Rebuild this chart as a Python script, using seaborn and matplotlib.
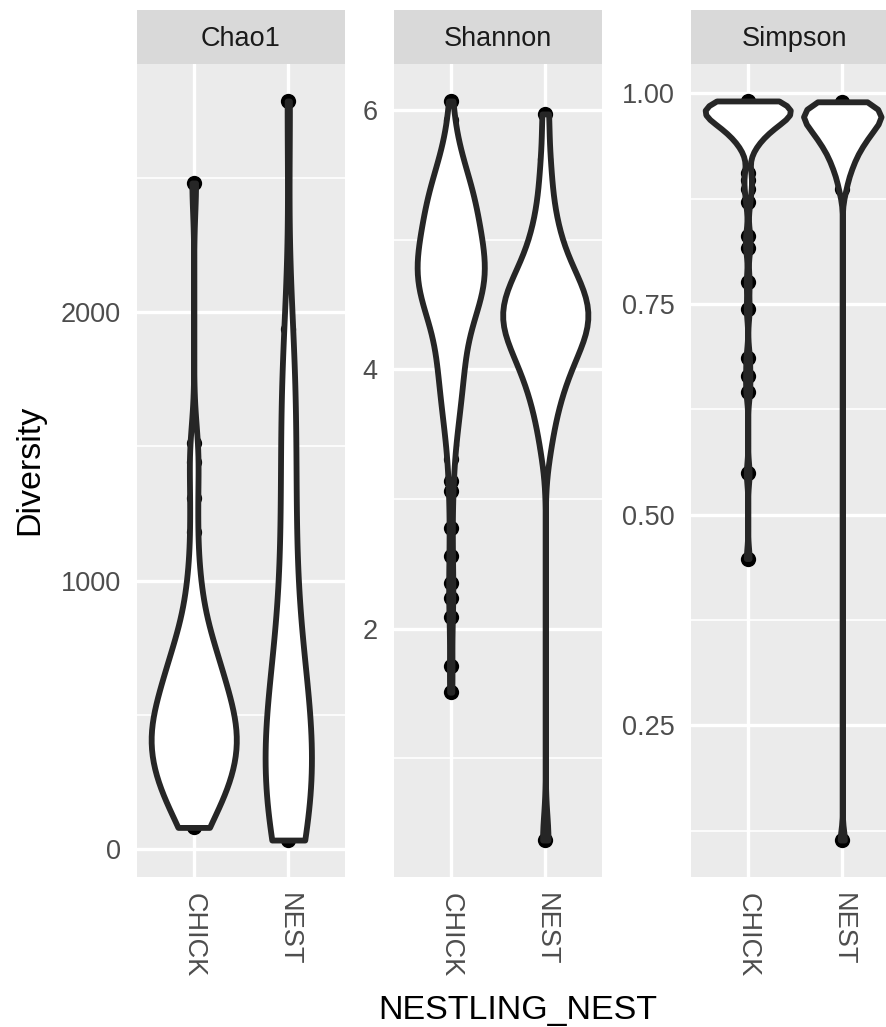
import numpy as np
import pandas as pd
import matplotlib
matplotlib.use("Agg")
import matplotlib.pyplot as plt
import seaborn as sns

# ---------------- data ----------------
groups = ["CHICK", "NEST"]
metrics = ["Chao1", "Shannon", "Simpson"]

chao1_chick = [82, 98, 120, 141,
               162, 178, 195, 210, 226,
               240, 255, 268, 281, 294,
               305, 316, 328, 339, 350, 361, 372, 383, 394, 404,
               414, 425, 436, 447, 458, 470, 481, 493, 505, 517, 529, 541, 552,
               566, 581, 597, 613, 629, 646, 663, 680, 698,
               718, 738, 760, 784,
               820, 862, 905,
               975, 1048,
               1180,
               1307, 1441, 1512, 2480]
chao1_nest = [35, 42, 55, 72, 95, 120, 145,
              170, 198, 226, 252, 278, 302,
              328, 356, 385, 414, 444, 474, 505, 536, 560,
              590, 612, 660, 720,
              790, 870,
              960, 1060, 1160, 1250,
              1350, 1450,
              1560, 1650, 1739,
              1810, 1937,
              2785]

shannon_chick = [6.07, 5.92, 5.82, 5.74,
                 5.70, 5.67, 5.64, 5.61, 5.58, 5.55, 5.53, 5.50, 5.48,
                 5.46, 5.44, 5.43, 5.41, 5.40, 5.38, 5.37, 5.36, 5.34, 5.33,
                 5.31, 5.30, 5.29, 5.27, 5.26, 5.25, 5.23, 5.22, 5.21, 5.20,
                 5.19, 5.18, 5.16, 5.15, 5.13, 5.12, 5.11, 5.09, 5.08, 5.07,
                 5.06, 5.04, 5.03, 5.02, 5.01, 4.99, 4.98, 4.97, 4.96, 4.95,
                 4.94, 4.93, 4.92, 4.91, 4.90, 4.89, 4.88, 4.87, 4.86, 4.85,
                 4.84, 4.83, 4.83, 4.82,
                 4.81, 4.80, 4.79, 4.78, 4.77, 4.76, 4.75, 4.74, 4.73, 4.72,
                 4.71, 4.70, 4.69, 4.68, 4.67, 4.66, 4.65, 4.64, 4.63, 4.62,
                 4.61, 4.60, 4.59, 4.58, 4.57, 4.57, 4.56, 4.55,
                 4.54, 4.52, 4.51, 4.50, 4.49, 4.47, 4.46, 4.45, 4.43, 4.42,
                 4.41, 4.40, 4.38,
                 4.36, 4.34, 4.32, 4.29, 4.27, 4.25, 4.22, 4.20, 4.18,
                 4.16, 4.13, 4.11, 4.08, 4.06, 4.03, 4.01, 3.98, 3.96, 3.93,
                 3.90, 3.87, 3.83, 3.80, 3.77, 3.74, 3.71, 3.68,
                 3.64, 3.58, 3.52, 3.47, 3.42,
                 3.31,
                 3.14, 3.06, 2.78, 2.56, 2.35, 2.24, 2.09, 1.71, 1.51]
shannon_nest = [5.97, 5.62, 5.40, 5.22, 5.10, 5.01, 4.93, 4.86, 4.80, 4.75,
                4.71, 4.68, 4.64, 4.60, 4.58, 4.54, 4.52, 4.49, 4.46, 4.44,
                4.41, 4.38, 4.35, 4.32, 4.30, 4.27, 4.24, 4.22, 4.17, 4.13,
                4.09, 4.04, 4.00, 3.94, 3.87, 3.80, 3.70, 3.59, 3.39,
                0.37]

simpson_chick = [0.991, 0.990, 0.990, 0.989, 0.989, 0.988, 0.988, 0.987, 0.987, 0.986, 0.986, 0.985,
                 0.984, 0.983, 0.983, 0.982, 0.981, 0.980, 0.979, 0.979, 0.978, 0.977, 0.977, 0.976, 0.975,
                 0.974, 0.973, 0.972, 0.971, 0.970, 0.969, 0.968, 0.967, 0.966,
                 0.964, 0.962, 0.960, 0.958, 0.957, 0.956,
                 0.954, 0.951, 0.949, 0.946,
                 0.942, 0.937, 0.931,
                 0.905, 0.897, 0.887, 0.871, 0.831, 0.816, 0.776, 0.744,
                 0.686, 0.665, 0.646, 0.549, 0.448]
simpson_nest = [0.990, 0.988, 0.987, 0.986, 0.985, 0.984, 0.983,
                0.981, 0.980, 0.978, 0.977, 0.975, 0.974, 0.972, 0.971, 0.970, 0.969,
                0.967, 0.965, 0.963, 0.961, 0.959, 0.957, 0.955, 0.953, 0.951, 0.949,
                0.946, 0.943, 0.940, 0.937, 0.934, 0.931,
                0.926, 0.920, 0.915, 0.910,
                0.900, 0.886,
                0.114]

chao1_ticks = [0, 1000, 2000]
chao1_labels = ["0", "1000", "2000"]
shannon_ticks = [2, 4, 6]
shannon_labels = ["2", "4", "6"]
simpson_ticks = [0.25, 0.50, 0.75, 1.00]
simpson_labels = ["0.25", "0.50", "0.75", "1.00"]

panel_data = {
    "Chao1": (chao1_chick, chao1_nest, chao1_ticks, chao1_labels),
    "Shannon": (shannon_chick, shannon_nest, shannon_ticks, shannon_labels),
    "Simpson": (simpson_chick, simpson_nest, simpson_ticks, simpson_labels),
}

x_title = "NESTLING_NEST"
y_title = "Diversity"


# R's bw.nrd0 rule, as used by ggplot2's geom_violin
def nrd0(kde):
    x = np.asarray(kde.dataset).ravel()
    n = x.size
    sd = np.std(x, ddof=1)
    q75, q25 = np.percentile(x, [75, 25])
    lo = min(sd, (q75 - q25) / 1.34)
    if lo <= 0:
        lo = sd
    return 0.9 * lo * n ** -0.2 / sd


# ---------------- style ----------------
sns.set_style("white")
plt.rcParams["font.family"] = ["Liberation Sans", "DejaVu Sans"]

W, H = 887, 1027
fig = plt.figure(figsize=(W / 100, H / 100), dpi=100)
fig.patch.set_facecolor("white")

lefts = [137, 394, 691]
pw = 208
ptop, pbot = 64, 877
stop = 10

PANEL_BG = "#EBEBEB"
STRIP_BG = "#D9D9D9"
LINE = "#262626"

for i, m in enumerate(metrics):
    chick, nest, ticks, labels = panel_data[m]
    df = pd.DataFrame({
        "group": ["CHICK"] * len(chick) + ["NEST"] * len(nest),
        "value": list(chick) + list(nest),
    })

    ax = fig.add_axes([lefts[i] / W, 1 - pbot / H, pw / W, (pbot - ptop) / H])
    ax.set_facecolor(PANEL_BG)

    sns.stripplot(data=df, x="group", y="value", order=groups, jitter=False,
                  color="black", size=11, linewidth=0, ax=ax)
    for c in ax.collections:
        c.set_zorder(2)
    n_before = len(ax.collections)
    sns.violinplot(data=df, x="group", y="value", order=groups, cut=0,
                   inner=None, density_norm="area", width=0.9,
                   bw_method=nrd0, color="white", saturation=1,
                   linecolor=LINE, linewidth=4.2, ax=ax)
    for c in ax.collections[n_before:]:
        c.set_zorder(3)

    vmin, vmax = df["value"].min(), df["value"].max()
    rng = vmax - vmin
    lo, hi = vmin - 0.05 * rng, vmax + 0.05 * rng

    ax.set_yticks(ticks)
    ax.set_yticklabels(labels)
    step = ticks[1] - ticks[0]
    minors = [t for t in [ticks[0] - step / 2] + [t + step / 2 for t in ticks]
              if lo <= t <= hi]
    ax.set_yticks(minors, minor=True)
    ax.set_xlim(-0.6, 1.6)
    ax.set_ylim(lo, hi)

    ax.set_axisbelow(True)
    ax.grid(True, which="major", color="white", linewidth=2.4)
    ax.grid(True, which="minor", axis="y", color="white", linewidth=1.2)
    for s in ax.spines.values():
        s.set_visible(False)

    ax.tick_params(axis="both", which="major", length=6.2, width=2.2,
                   color="#333333", labelcolor="#4D4D4D", labelsize=19.5, pad=5.5)
    ax.tick_params(axis="both", which="minor", length=0)
    for lab in ax.get_xticklabels():
        lab.set_rotation(-90)
        lab.set_va("top")
        lab.set_ha("center")
    ax.set_xlabel("")
    ax.set_ylabel("")

    sax = fig.add_axes([lefts[i] / W, 1 - ptop / H, pw / W, (ptop - stop) / H])
    sax.set_facecolor(STRIP_BG)
    sax.set_xticks([])
    sax.set_yticks([])
    for s in sax.spines.values():
        s.set_visible(False)
    sax.text(0.5, 0.47, m, ha="center", va="center", transform=sax.transAxes,
             fontsize=19.5, color="#1A1A1A")

fig.text(30 / W, 1 - 470 / H, y_title, rotation=90, ha="center", va="center",
         fontsize=24.5, color="black")
fig.text(518 / W, 1 - 1019 / H, x_title, ha="center", va="baseline",
         fontsize=24.5, color="black")

fig.savefig("out.png", dpi=100)
